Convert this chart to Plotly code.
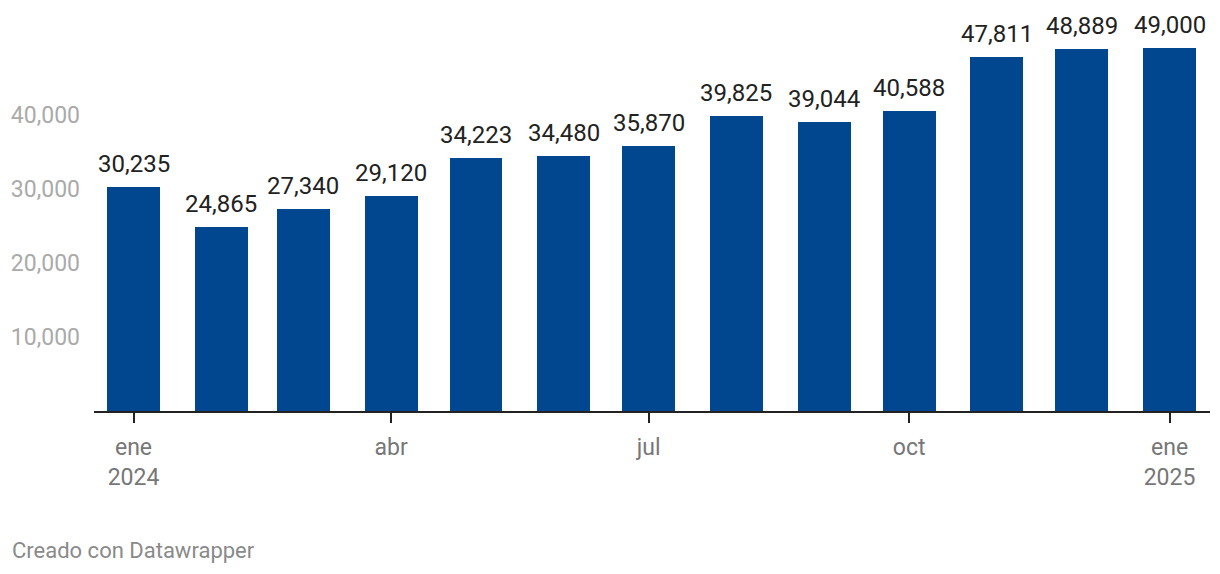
import plotly.graph_objects as go

months = ["2024-01-01", "2024-02-01", "2024-03-01", "2024-04-01", "2024-05-01", "2024-06-01",
          "2024-07-01", "2024-08-01", "2024-09-01", "2024-10-01", "2024-11-01", "2024-12-01",
          "2025-01-01"]
values = [30235, 24865, 27340, 29120, 34223, 34480, 35870, 39825, 39044, 40588, 47811, 48889, 49000]
tick_vals = ["2024-01-01", "2024-04-01", "2024-07-01", "2024-10-01", "2025-01-01"]
tick_text = ["ene<br>2024", "abr", "jul", "oct", "ene<br>2025"]
y_ticks = [10000, 20000, 30000, 40000]

BAR = "#00478f"
FONT = "Roboto"
DAY_MS = 86400000

fig = go.Figure()
fig.add_trace(go.Bar(
    x=months, y=values, marker=dict(color=BAR, line=dict(width=0)),
    width=18.7 * DAY_MS, hoverinfo="skip",
))

for xi, v in zip(months, values):
    fig.add_annotation(x=xi, y=v, text=f"{v:,}", showarrow=False,
                       yanchor="bottom", yshift=7,
                       font=dict(family=FONT, size=24, color="#222222"))

fig.add_annotation(xref="paper", yref="paper", x=(10 - 94) / 1116, y=(411 - 550) / 401,
                   xanchor="left", yanchor="middle", showarrow=False,
                   text="Creado con Datawrapper",
                   font=dict(family=FONT, size=22, color="#8a8a8a"))

fig.update_layout(
    width=1212, height=566,
    margin=dict(l=86, r=10, t=2, b=163, pad=0),
    paper_bgcolor="white", plot_bgcolor="white",
    showlegend=False, bargap=0,
    font=dict(family=FONT),
    xaxis=dict(
        type="date",
        range=["2023-12-18 01:00", "2025-01-15 07:00"],
        tickmode="array", tickvals=tick_vals, ticktext=tick_text,
        ticks="outside", ticklen=10, tickwidth=2, tickcolor="#222222",
        showline=True, linecolor="#222222", linewidth=2, showgrid=False, zeroline=False,
        ticklabelstandoff=4,
        tickfont=dict(family=FONT, size=23, color="#777777"),
    ),
    yaxis=dict(
        range=[0, 54189], tickmode="array", tickvals=y_ticks,
        tickformat=",", showgrid=False, zeroline=False, showline=False,
        ticks="", ticklabelstandoff=13,
        tickfont=dict(family=FONT, size=23, color="#aaaaaa"),
    ),
)

fig.write_html("out.html")
